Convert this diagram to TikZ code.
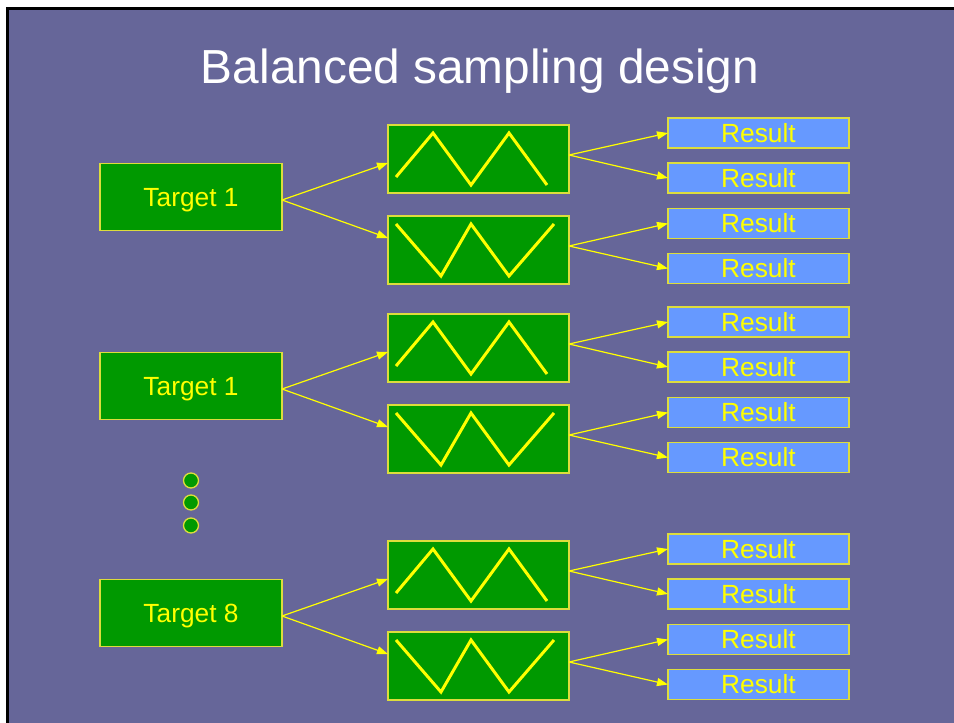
\documentclass[tikz,border=0pt]{standalone}
\usepackage{fontspec}
\setmainfont{Liberation Sans}
\usetikzlibrary{arrows.meta}
\definecolor{slidebg}{RGB}{102,102,153}
\definecolor{boxgreen}{RGB}{0,153,0}
\definecolor{resblue}{RGB}{102,153,255}
\definecolor{ylw}{RGB}{255,255,0}
\definecolor{edge}{RGB}{221,221,60}
\tikzset{
  every node/.style={inner sep=0pt, outer sep=0pt},
  targetbox/.style={draw=edge, line width=1.3pt, fill=boxgreen, minimum width=182pt, minimum height=67pt,
    text=ylw, font=\fontsize{26.3}{30}\selectfont, text height=18.8pt, text depth=0pt},
  wavebox/.style={draw=edge, line width=1.3pt, fill=boxgreen, minimum width=181pt, minimum height=68pt},
  resultbox/.style={draw=edge, line width=1.1pt, fill=resblue, minimum width=181pt, minimum height=30pt,
    text=ylw, font=\fontsize{26.3}{30}\selectfont, text height=18.8pt, text depth=0pt},
  link/.style={draw=ylw, line width=1.2pt, -{Triangle[length=11pt,width=8pt]}},
  wave/.style={draw=ylw, line width=3pt, line join=miter},
  dot/.style={circle, draw=edge, line width=1.3pt, fill=boxgreen, minimum size=15pt},
}
\begin{document}
\begin{tikzpicture}[x=1pt,y=-1pt]
  \useasboundingbox (0,0) rectangle (954,723);
  \fill[white] (0,0) rectangle (954,723);
  % slide with its dark frame on the top and left
  \fill[black] (6,7) rectangle (954,723);
  \fill[slidebg] (9,10) rectangle (954,723);

  \node[anchor=base, text=white, font=\fontsize{47.8}{56}\selectfont] (title) at (480,83) {Balanced sampling design};

  \foreach \g/\dy/\lab in {1/0/Target 1, 2/189/Target 1, 3/416/Target 8}{
    \node[targetbox] (t\g) at (191,197+\dy) {\lab};
    \node[wavebox] (w\g a) at (478.5,159+\dy) {};
    \node[wavebox] (w\g b) at (478.5,250+\dy) {};
    \node[resultbox] (r\g a) at (758.5,133+\dy) {Result};
    \node[resultbox] (r\g b) at (758.5,178+\dy) {Result};
    \node[resultbox] (r\g c) at (758.5,223.5+\dy) {Result};
    \node[resultbox] (r\g d) at (758.5,268.5+\dy) {Result};
    % waveforms inside the green boxes
    \begin{scope}[shift={(w\g a.north west)}]
      \draw[wave] (8,52) -- (45,8) -- (83,60) -- (121,8) -- (159,60);
    \end{scope}
    \begin{scope}[shift={(w\g b.north west)}]
      \draw[wave] (8,8) -- (53,60) -- (83,8) -- (121,60) -- (166,8);
    \end{scope}
    % connectors
    \draw[link] ([yshift=-3pt]t\g.east) -- ([yshift=-4pt]w\g a.west);
    \draw[link] ([yshift=-3pt]t\g.east) -- ([yshift=12pt]w\g b.west);
    \draw[link] ([yshift=4pt]w\g a.east) -- (r\g a.west);
    \draw[link] ([yshift=4pt]w\g a.east) -- (r\g b.west);
    \draw[link] ([yshift=4pt]w\g b.east) -- (r\g c.west);
    \draw[link] ([yshift=4pt]w\g b.east) -- (r\g d.west);
  }

  % ellipsis between the groups
  \node[dot] (d1) at (191,480.5) {};
  \node[dot] (d2) at (191,502.5) {};
  \node[dot] (d3) at (191,525.5) {};
\end{tikzpicture}
\end{document}
